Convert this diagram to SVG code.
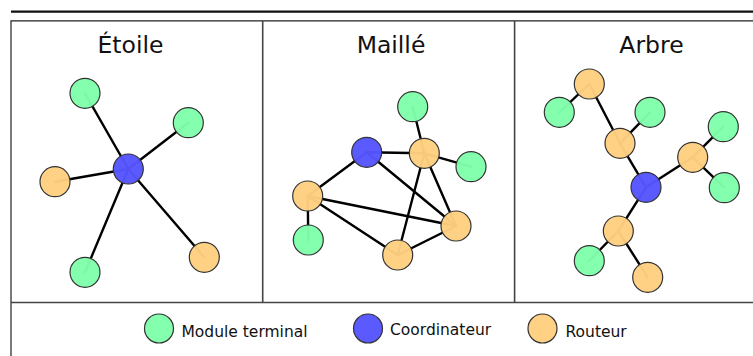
<svg xmlns="http://www.w3.org/2000/svg" width="753" height="356" viewBox="0 0 753 356">
  <style>
    .frame { fill: none; stroke: #222; stroke-width: 1.2; }
    .sep { fill: none; stroke: #444; stroke-width: 1.6; }
    .edge { stroke: #000; stroke-width: 2.4; stroke-linecap: round; fill: none; }
    .node { stroke: #333; stroke-width: 1.2; fill-opacity: 0.97; }
    .term { fill: #80ffaa; }
    .coord { fill: #5555ff; }
    .rout { fill: #ffcf80; }
    .title { font-family: "DejaVu Sans", sans-serif; font-size: 23.5px; fill: #111; text-anchor: middle; }
    .leg { font-family: "DejaVu Sans", sans-serif; font-size: 15.5px; fill: #111; }
  </style>

  <rect width="753" height="356" fill="#fff"/>

  <!-- frame -->
  <g id="frame">
    <line x1="11" y1="11.7" x2="753" y2="11.7" stroke="#111" stroke-width="2.2"/>
    <path class="frame" d="M11 356 V20.8 H753"/>
    <line class="sep" x1="11" y1="302.5" x2="753" y2="302.5"/>
    <line class="sep" x1="262.7" y1="21" x2="262.7" y2="302.5"/>
    <line class="sep" x1="514.6" y1="21" x2="514.6" y2="302.5"/>
  </g>

  <!-- titles -->
  <g id="titles">
    <text class="title" x="130.5" y="53">Étoile</text>
    <text class="title" x="391" y="53">Maillé</text>
    <text class="title" x="651.5" y="52.5">Arbre</text>
  </g>

  <!-- connectors -->
  <g id="connectors">
    <!-- star -->
    <line class="edge" x1="128.3" y1="169" x2="85" y2="93.3"/>
    <line class="edge" x1="128.3" y1="169" x2="188.3" y2="122.7"/>
    <line class="edge" x1="128.3" y1="169" x2="55" y2="181.7"/>
    <line class="edge" x1="128.3" y1="169" x2="85" y2="272.3"/>
    <line class="edge" x1="128.3" y1="169" x2="204.3" y2="257.3"/>
    <!-- mesh -->
    <line class="edge" x1="424.3" y1="153.3" x2="412.7" y2="106.7"/>
    <line class="edge" x1="424.3" y1="153.3" x2="366.7" y2="152.3"/>
    <line class="edge" x1="424.3" y1="153.3" x2="471" y2="166.7"/>
    <line class="edge" x1="366.7" y1="152.3" x2="307.7" y2="196"/>
    <line class="edge" x1="366.7" y1="152.3" x2="456" y2="226"/>
    <line class="edge" x1="424.3" y1="153.3" x2="397.7" y2="255"/>
    <line class="edge" x1="424.3" y1="153.3" x2="456" y2="226"/>
    <line class="edge" x1="307.7" y1="196" x2="456" y2="226"/>
    <line class="edge" x1="307.7" y1="196" x2="397.7" y2="255"/>
    <line class="edge" x1="397.7" y1="255" x2="456" y2="226"/>
    <line class="edge" x1="307.7" y1="196" x2="308.3" y2="240"/>
    <!-- tree -->
    <line class="edge" x1="589.3" y1="84" x2="559.3" y2="112.3"/>
    <line class="edge" x1="589.3" y1="84" x2="620" y2="143.3"/>
    <line class="edge" x1="620" y1="143.3" x2="650" y2="112.3"/>
    <line class="edge" x1="620" y1="143.3" x2="646" y2="187.3"/>
    <line class="edge" x1="646" y1="187.3" x2="692.7" y2="157.3"/>
    <line class="edge" x1="692.7" y1="157.3" x2="723.3" y2="126.7"/>
    <line class="edge" x1="692.7" y1="157.3" x2="724.3" y2="187.7"/>
    <line class="edge" x1="646" y1="187.3" x2="618.3" y2="231"/>
    <line class="edge" x1="618.3" y1="231" x2="589.3" y2="260.7"/>
    <line class="edge" x1="618.3" y1="231" x2="647.7" y2="277.3"/>
  </g>

  <!-- star nodes -->
  <g id="star-t1"><circle class="node term" cx="85" cy="93.3" r="15"/></g>
  <g id="star-t2"><circle class="node term" cx="188.3" cy="122.7" r="15"/></g>
  <g id="star-c"><circle class="node coord" cx="128.3" cy="169" r="15"/></g>
  <g id="star-r1"><circle class="node rout" cx="55" cy="181.7" r="15"/></g>
  <g id="star-t3"><circle class="node term" cx="85" cy="272.3" r="15"/></g>
  <g id="star-r2"><circle class="node rout" cx="204.3" cy="257.3" r="15"/></g>

  <!-- mesh nodes -->
  <g id="mesh-t1"><circle class="node term" cx="412.7" cy="106.7" r="15"/></g>
  <g id="mesh-c"><circle class="node coord" cx="366.7" cy="152.3" r="15"/></g>
  <g id="mesh-r1"><circle class="node rout" cx="424.3" cy="153.3" r="15"/></g>
  <g id="mesh-t2"><circle class="node term" cx="471" cy="166.7" r="15"/></g>
  <g id="mesh-r2"><circle class="node rout" cx="307.7" cy="196" r="15"/></g>
  <g id="mesh-r3"><circle class="node rout" cx="456" cy="226" r="15"/></g>
  <g id="mesh-t3"><circle class="node term" cx="308.3" cy="240" r="15"/></g>
  <g id="mesh-r4"><circle class="node rout" cx="397.7" cy="255" r="15"/></g>

  <!-- tree nodes -->
  <g id="tree-r1"><circle class="node rout" cx="589.3" cy="84" r="15"/></g>
  <g id="tree-t1"><circle class="node term" cx="559.3" cy="112.3" r="15"/></g>
  <g id="tree-t2"><circle class="node term" cx="650" cy="112.3" r="15"/></g>
  <g id="tree-r2"><circle class="node rout" cx="620" cy="143.3" r="15"/></g>
  <g id="tree-t3"><circle class="node term" cx="723.3" cy="126.7" r="15"/></g>
  <g id="tree-r3"><circle class="node rout" cx="692.7" cy="157.3" r="15"/></g>
  <g id="tree-t4"><circle class="node term" cx="724.3" cy="187.7" r="15"/></g>
  <g id="tree-c"><circle class="node coord" cx="646" cy="187.3" r="15"/></g>
  <g id="tree-r4"><circle class="node rout" cx="618.3" cy="231" r="15"/></g>
  <g id="tree-t5"><circle class="node term" cx="589.3" cy="260.7" r="15"/></g>
  <g id="tree-r5"><circle class="node rout" cx="647.7" cy="277.3" r="15"/></g>

  <!-- legend -->
  <g id="legend-term">
    <circle class="node term" cx="159" cy="328.5" r="14.5"/>
    <text class="leg" x="181.5" y="337">Module terminal</text>
  </g>
  <g id="legend-coord">
    <circle class="node coord" cx="368" cy="328.5" r="14.5"/>
    <text class="leg" x="390" y="335">Coordinateur</text>
  </g>
  <g id="legend-rout">
    <circle class="node rout" cx="542.5" cy="328.5" r="14.5"/>
    <text class="leg" x="565.5" y="337">Routeur</text>
  </g>
</svg>
